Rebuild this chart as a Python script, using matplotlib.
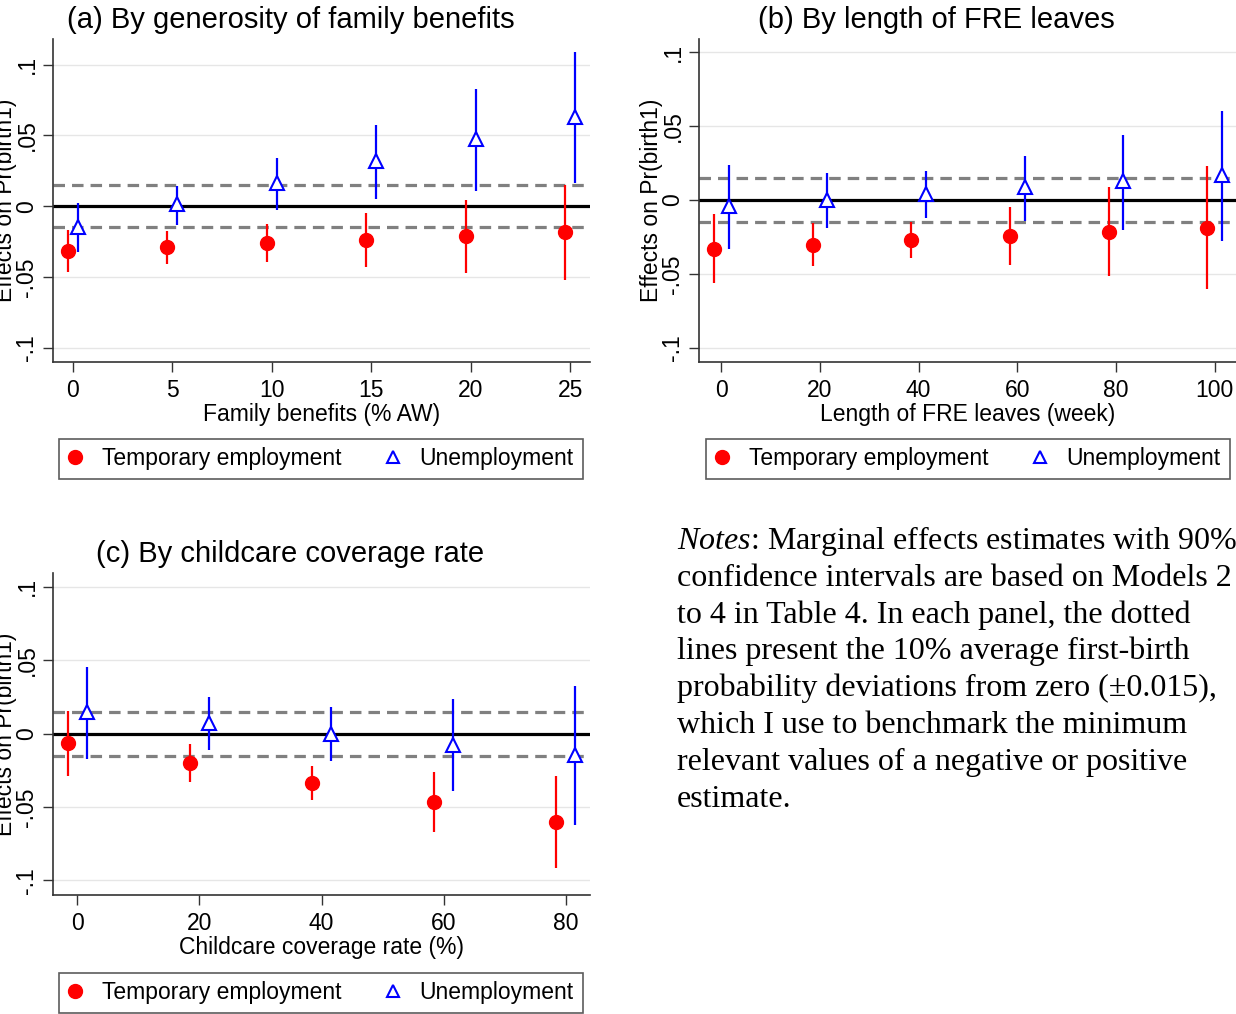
import matplotlib.pyplot as plt
from matplotlib.lines import Line2D
import numpy as np

plt.rcParams['font.family'] = ['Liberation Sans', 'DejaVu Sans']
plt.rcParams['mathtext.fontset'] = 'custom'
plt.rcParams['mathtext.it'] = 'Liberation Serif:italic'
plt.rcParams['mathtext.rm'] = 'Liberation Serif'

W, H = 1236, 1014

# (a) family benefits (% AW)
a_x = [0, 5, 10, 15, 20, 25]
a_temp = [-0.0315, -0.0290, -0.0263, -0.0239, -0.0213, -0.0185]
a_temp_lo = [-0.0462, -0.0405, -0.0396, -0.0427, -0.0472, -0.0519]
a_temp_hi = [-0.0168, -0.0173, -0.0128, -0.0047, 0.0047, 0.0149]
a_unemp = [-0.0149, 0.0012, 0.0164, 0.0320, 0.0472, 0.0628]
a_unemp_lo = [-0.0322, -0.0135, -0.0024, 0.0052, 0.0109, 0.0161]
a_unemp_hi = [0.0021, 0.0142, 0.0341, 0.0576, 0.0829, 0.1085]

# (b) length of FRE leaves (week)
b_x = [0, 20, 40, 60, 80, 100]
b_temp = [-0.0329, -0.0302, -0.0272, -0.0245, -0.0216, -0.0188]
b_temp_lo = [-0.0563, -0.0445, -0.0395, -0.0440, -0.0518, -0.0604]
b_temp_hi = [-0.0093, -0.0157, -0.0152, -0.0048, 0.0086, 0.0227]
b_unemp = [-0.0041, 0.0000, 0.0043, 0.0086, 0.0129, 0.0168]
b_unemp_lo = [-0.0329, -0.0193, -0.0120, -0.0145, -0.0204, -0.0279]
b_unemp_hi = [0.0234, 0.0182, 0.0193, 0.0297, 0.0443, 0.0604]

# (c) childcare coverage rate (%)
c_x = [0, 20, 40, 60, 80]
c_temp = [-0.0066, -0.0200, -0.0336, -0.0469, -0.0603]
c_temp_lo = [-0.0288, -0.0329, -0.0451, -0.0671, -0.0916]
c_temp_hi = [0.0156, -0.0068, -0.0218, -0.0263, -0.0290]
c_unemp = [0.0147, 0.0075, 0.0000, -0.0075, -0.0147]
c_unemp_lo = [-0.0170, -0.0113, -0.0188, -0.0390, -0.0626]
c_unemp_hi = [0.0454, 0.0252, 0.0179, 0.0238, 0.0324]

yticks = [-0.1, -0.05, 0, 0.05, 0.1]
ytick_labels = ['-.1', '-.05', '0', '.05', '.1']
band = 0.015

fig = plt.figure(figsize=(W / 100, H / 100), dpi=100)


def px_axes(x0, y0, x1, y1):
    return fig.add_axes([x0 / W, 1 - y1 / H, (x1 - x0) / W, (y1 - y0) / H])


def panel(ax, x, t, tlo, thi, u, ulo, uhi, off, xlim, ylim, title, xlabel, width_px):
    x = np.array(x, dtype=float)
    ax.set_xlim(*xlim)
    ax.set_ylim(*ylim)
    for yv in yticks:
        ax.axhline(yv, color='#e6e6e6', lw=1.0, zorder=0)
    ax.axhline(0, color='black', lw=2.3, zorder=1)
    for yv in (band, -band):
        ax.axhline(yv, color='#808080', lw=2.3, dashes=(3.6, 2.2), zorder=1)
    t, tlo, thi = map(np.array, (t, tlo, thi))
    u, ulo, uhi = map(np.array, (u, ulo, uhi))
    ax.vlines(x - off, tlo, thi, color='red', lw=1.6, zorder=2)
    ax.plot(x - off, t, 'o', color='red', ms=10, zorder=3)
    ax.vlines(x + off, ulo, uhi, color='blue', lw=1.6, zorder=2)
    ax.plot(x + off, u, '^', mfc='white', mec='blue', mew=1.5, ms=10, zorder=3)
    ax.set_yticks(yticks)
    ax.set_yticklabels(ytick_labels, rotation=90, va='center')
    ax.set_xticks(x)
    ax.tick_params(labelsize=16.5, length=7, width=1.0, color='#333333')
    ax.tick_params(axis='x', pad=5)
    ax.spines['top'].set_visible(False)
    ax.spines['right'].set_visible(False)
    for s in ('left', 'bottom'):
        ax.spines[s].set_linewidth(1.2)
        ax.spines[s].set_color('#333333')
    ax.set_xlabel(xlabel, fontsize=16.5, labelpad=1)
    ax.set_ylabel('Effects on Pr(birth1)', fontsize=16.5)
    ax.yaxis.set_label_coords(-36 / width_px, 0.5)
    ttl = ax.set_title(title, fontsize=21, pad=8)
    ttl.set_x(0.5 - 31 / width_px)


def add_legend(ax, cx, cy):
    handles = [Line2D([], [], ls='none', marker='o', color='red', ms=10),
               Line2D([], [], ls='none', marker='^', mfc='white', mec='blue', mew=1.5, ms=9)]
    leg = ax.legend(handles, ['Temporary employment', 'Unemployment'], ncol=2,
                    loc='center', bbox_to_anchor=(cx / W, 1 - cy / H),
                    bbox_transform=fig.transFigure, fontsize=16.5, frameon=True,
                    fancybox=False, edgecolor='#333333', handlelength=0.6,
                    handletextpad=0.87, columnspacing=1.95, borderpad=0.38,
                    borderaxespad=0)
    leg.get_frame().set_linewidth(1.2)


ax_a = px_axes(53, 39, 590, 362)
panel(ax_a, a_x, a_temp, a_temp_lo, a_temp_hi, a_unemp, a_unemp_lo, a_unemp_hi,
      0.25, (-1.0, 26.0), (-0.110, 0.118), '(a) By generosity of family benefits',
      'Family benefits (% AW)', 537)
add_legend(ax_a, 321, 459)

ax_b = px_axes(699, 39, 1236, 362)
panel(ax_b, b_x, b_temp, b_temp_lo, b_temp_hi, b_unemp, b_unemp_lo, b_unemp_hi,
      1.5, (-4.5, 104.3), (-0.1097, 0.109), '(b) By length of FRE leaves',
      'Length of FRE leaves (week)', 537)
add_legend(ax_b, 968, 459)

ax_c = px_axes(53, 573, 590, 895)
panel(ax_c, c_x, c_temp, c_temp_lo, c_temp_hi, c_unemp, c_unemp_lo, c_unemp_hi,
      1.5, (-4.0, 84.0), (-0.110, 0.1095), '(c) By childcare coverage rate',
      'Childcare coverage rate (%)', 537)
add_legend(ax_c, 321, 993)

notes = [r'$\mathit{Notes}$: Marginal effects estimates with 90%',
         'confidence intervals are based on Models 2',
         'to 4 in Table 4. In each panel, the dotted',
         'lines present the 10% average first-birth',
         'probability deviations from zero (\u00b10.015),',
         'which I use to benchmark the minimum',
         'relevant values of a negative or positive',
         'estimate.']
for i, line in enumerate(notes):
    fig.text(677 / W, 1 - (549 + i * 36.8) / H, line, fontsize=23,
             family='Liberation Serif', va='baseline', ha='left')

fig.savefig('out.png', dpi=100)
